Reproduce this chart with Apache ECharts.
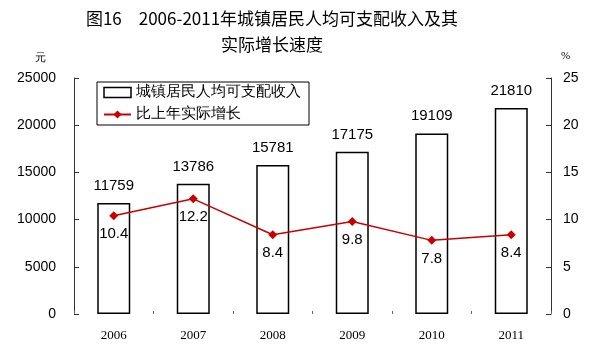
<!DOCTYPE html>
<html>
<head>
<meta charset="utf-8">
<script src="https://cdn.jsdelivr.net/npm/echarts@6/dist/echarts.min.js"></script>
<style>
html, body { margin: 0; padding: 0; background: #fff; }
#main { width: 600px; height: 354px; }
</style>
</head>
<body>
<div id="main"></div>
<script>
var years = ['2006', '2007', '2008', '2009', '2010', '2011'];
var income = [11759, 13786, 15781, 17175, 19109, 21810];
var growth = [10.4, 12.2, 8.4, 9.8, 7.8, 8.4];

var myChart = echarts.init(document.getElementById('main'));
var option = {
	backgroundColor: '#fff',
	animation: false,
	title: {
		text: '图16　2006-2011年城镇居民人均可支配收入及其\n实际增长速度',
		left: 267,
		textAlign: 'center',
		top: 1,
		textStyle: {
			fontFamily: 'Noto Sans CJK SC',
			fontSize: 17,
			fontWeight: 'normal',
			color: '#000',
			lineHeight: 26
		}
	},
	legend: {
		orient: 'vertical',
		left: 97,
		top: 82,
		padding: [3, 8, 3, 6],
		itemGap: 7,
		itemWidth: 27,
		itemHeight: 10,
		borderColor: '#000',
		borderWidth: 1,
		backgroundColor: '#fff',
		textStyle: {
			fontFamily: 'Liberation Serif',
			fontSize: 15,
			color: '#000'
		},
		data: [
			{ name: '城镇居民人均可支配收入', icon: 'rect', itemStyle: { color: '#fff', borderColor: '#000', borderWidth: 1.5 } },
			{ name: '比上年实际增长' }
		]
	},
	grid: {
		left: 74,
		right: 49,
		top: 78,
		bottom: 40
	},
	xAxis: {
		type: 'category',
		data: years,
		axisLine: { show: false },
		axisTick: { show: true, inside: true, length: 3, lineStyle: { color: '#666' } },
		axisLabel: {
			margin: 15,
			fontFamily: 'Liberation Serif',
			fontSize: 13,
			color: '#000'
		}
	},
	yAxis: [{
		type: 'value',
		name: '元',
		nameGap: 14,
		nameTextStyle: { fontFamily: 'Liberation Serif', fontSize: 11, color: '#000', align: 'right', padding: [0, 28, 0, 0] },
		min: 0,
		max: 25000,
		interval: 5000,
		splitLine: { show: false },
		axisLine: { show: true, lineStyle: { color: '#333' } },
		axisTick: { show: true, inside: true, length: 5, lineStyle: { color: '#333' } },
		axisLabel: {
			margin: 18,
			fontFamily: 'Liberation Sans',
			fontSize: 14,
			color: '#000',
			formatter: function(v) { return String(v); }
		}
	}, {
		type: 'value',
		name: '%',
		nameGap: 16,
		nameTextStyle: { fontFamily: 'Liberation Serif', fontSize: 11, color: '#000', align: 'left', padding: [0, 0, 0, 10] },
		min: 0,
		max: 25,
		interval: 5,
		splitLine: { show: false },
		axisLine: { show: true, lineStyle: { color: '#333' } },
		axisTick: { show: true, inside: true, length: 5, lineStyle: { color: '#333' } },
		axisLabel: { margin: 12, fontFamily: 'Liberation Sans', fontSize: 14, color: '#000' }
	}],
	series: [{
		name: '城镇居民人均可支配收入',
		type: 'bar',
		data: income,
		barWidth: 33,
		itemStyle: { color: '#fff', borderColor: '#000', borderWidth: 1.5 },
		label: {
			show: true,
			position: 'top',
			distance: 10,
			fontFamily: 'Liberation Sans',
			fontSize: 15,
			color: '#000'
		}
	}, {
		name: '比上年实际增长',
		type: 'line',
		yAxisIndex: 1,
		data: growth,
		symbol: 'diamond',
		symbolSize: 9,
		itemStyle: { color: '#c80000' },
		lineStyle: { color: '#c80000', width: 1.5 },
		label: {
			show: true,
			position: 'bottom',
			distance: 6,
			fontFamily: 'Liberation Sans',
			fontSize: 15,
			color: '#000',
			formatter: function(p) {
				return p.value.toFixed(1);
			}
		}
	}]
};
myChart.setOption(option);
</script>
</body>
</html>
